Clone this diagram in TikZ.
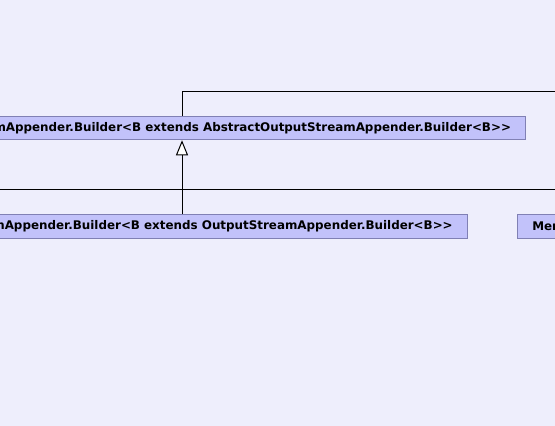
\documentclass[tikz,border=0pt]{standalone}
\usepackage{fontspec}
\newfontfamily\clsfont{DejaVu Sans}
\usetikzlibrary{arrows.meta}
\definecolor{bgc}{RGB}{238,238,252}
\definecolor{boxfill}{RGB}{194,194,250}
\definecolor{boxline}{RGB}{128,128,180}
\tikzset{
  cls/.style={draw=boxline, fill=boxfill, line width=1pt, minimum height=23.5pt,
    inner xsep=14.5pt, inner ysep=0pt, font=\clsfont\bfseries\fontsize{11.9}{13}\selectfont},
  conn/.style={draw=black, line width=1pt},
  inh/.style={conn, -{Triangle[open, fill=white, length=15pt, width=12pt, line width=1pt]}}
}
\begin{document}
\begin{tikzpicture}[x=1pt,y=-1pt]
\useasboundingbox (0,0) rectangle (555,426);
\clip (0,0) rectangle (555,426);
\fill[bgc] (-5,-5) rectangle (560,431);
\coordinate (tx) at (182,0);
\coordinate (r1) at (565,91);
\coordinate (busL) at (-10,189);
\coordinate (busR) at (565,189);
\node[cls, anchor=east] (top) at (526,128) {mAppender.Builder<B extends AbstractOutputStreamAppender.Builder<B>>};
\node[cls, anchor=east] (bot) at (467.7,226.3) {mAppender.Builder<B extends OutputStreamAppender.Builder<B>>};
\node[cls, anchor=west, text width=80pt, align=left] (mem) at (517.3,226.3) {Mem};
\draw[conn] (top.north -| tx) |- (r1);
\draw[conn] (busL) -- (busR);
\draw[inh] (bot.north -| tx) -- (top.south -| tx);
\end{tikzpicture}
\end{document}
